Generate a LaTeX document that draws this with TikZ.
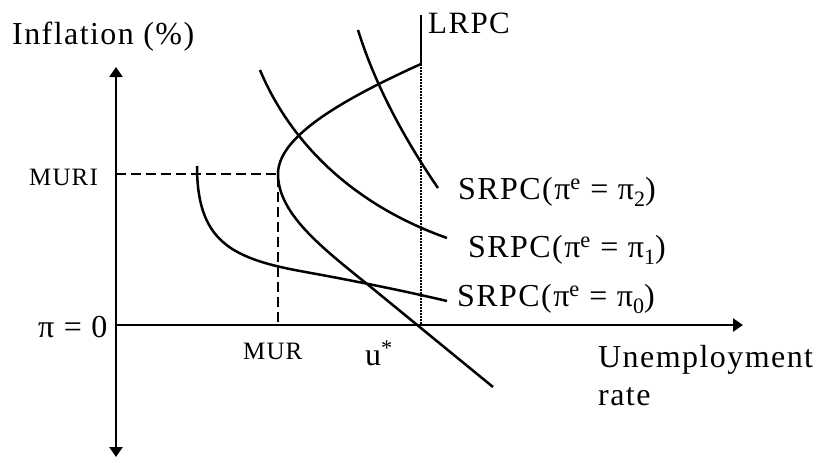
\documentclass[tikz,border=0pt]{standalone}
\usepackage{fontspec}
\setmainfont[LetterSpace=4.5]{Liberation Serif}
\usetikzlibrary{arrows.meta}

\newcommand{\pisub}[1]{\raisebox{-7pt}{\fontsize{22}{22}\selectfont #1}}

\tikzset{
  lbl/.style={anchor=base west, inner sep=0pt, font=\fontsize{32}{38}\selectfont},
  small lbl/.style={anchor=base west, inner sep=0pt, font=\fontsize{25}{30}\selectfont},
  curve/.style={line width=2.5pt},
  axis/.style={line width=2.4pt},
}

\begin{document}
\begin{tikzpicture}[x=1pt,y=-1pt,>={Triangle[length=10pt,width=13pt]}]
  \useasboundingbox (0,0) rectangle (825,458);
  % axes
  \draw[axis,<->] (116,457) -- (116,67);
  \draw[axis,->] (116,325) -- (743,325);
  \node[lbl] (infl) at (12,44) {Inflation (\%)};
  \node[lbl] (unemp) at (598,367) {Unemployment};
  \node[lbl] (rate) at (598,405) {rate};
  \node[lbl] (pizero) at (38,337) {π = 0};
  % MURI point
  \coordinate (muri) at (278,174);
  \draw[axis,dash pattern=on 10pt off 5pt] (116,174) -- (muri) -- (278,325);
  \node[small lbl] (muril) at (29,185) {MURI};
  \node[small lbl] (murl) at (243,359) {MUR};
  \node[lbl] (ustar) at (365,365) {u\textsuperscript{*}};
  % LRPC
  \draw[curve] (421,15) -- (421,64);
  \draw[line width=1.5pt,dash pattern=on 1.5pt off 1.5pt] (421,64) -- (421,325);
  \node[lbl,font=\fontsize{31}{36}\selectfont] (lrpc) at (428,33) {LRPC};
  % short run curves
  \draw[curve] (358,30) .. controls (375,85) and (405,140) .. (438,188);
  \draw[curve] (260,70) .. controls (285,130) and (340,200) .. (447,238);
  \draw[curve] (197,166) .. controls (197,240) and (230,258) .. (300,271)
    .. controls (350,280) and (400,290) .. (447,301);
  % path of inflation
  \draw[curve] (421,64) .. controls (330,105) and (278,140) .. (muri)
    .. controls (278,215) and (325,250) .. (372,288) -- (493,387);
  \foreach \i/\x/\y in {2/458/199, 1/468/257, 0/457/306}
    {\node[lbl] (srpc\i) at (\x,\y) {SRPC(π\textsuperscript{e} = π\pisub{\i})};}
\end{tikzpicture}
\end{document}
